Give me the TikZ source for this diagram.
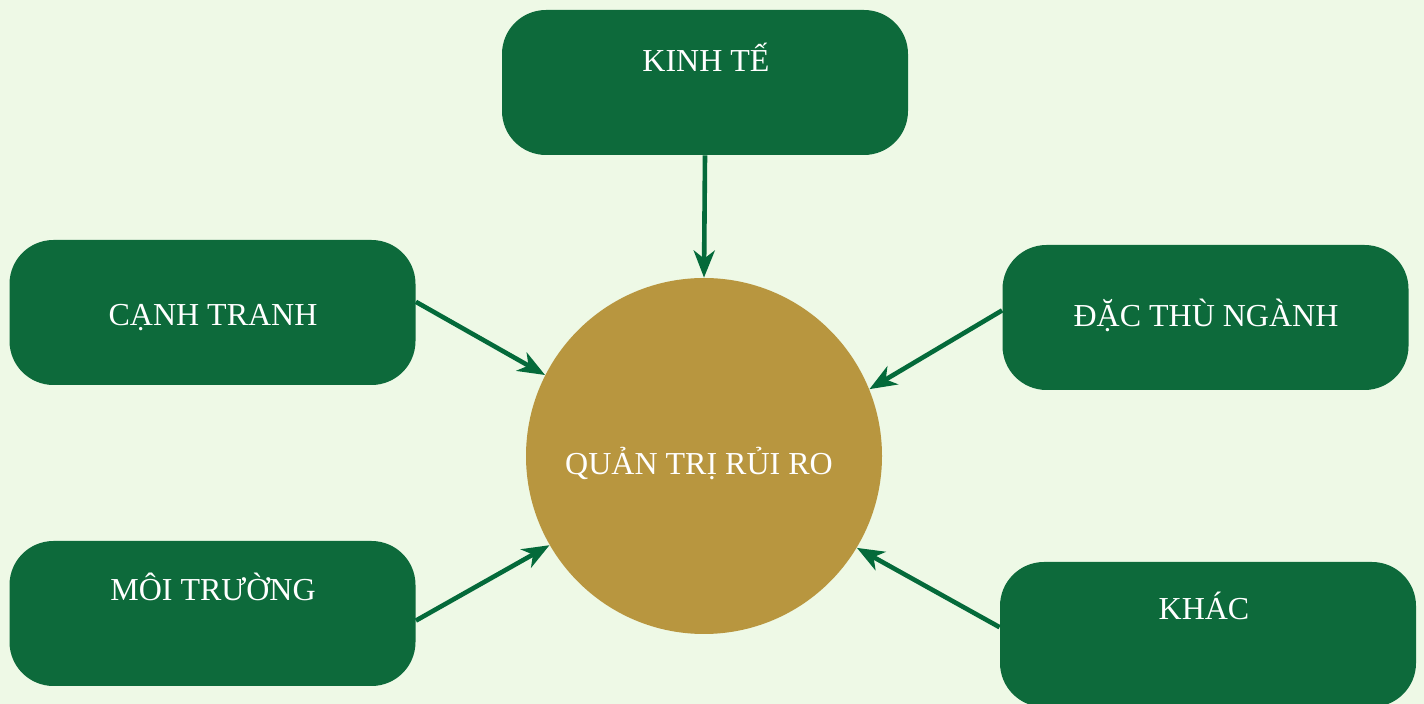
\documentclass[tikz,border=0pt]{standalone}
\usepackage{fontspec}
\setmainfont{Liberation Serif}
\usetikzlibrary{arrows.meta}
\definecolor{bgcol}{HTML}{EEF9E6}
\definecolor{boxcol}{HTML}{0D6A3B}
\definecolor{arrowcol}{HTML}{046A3A}
\definecolor{corecol}{HTML}{B8963F}
\tikzset{
  factor/.style={rectangle, rounded corners=22pt, fill=boxcol, draw=none,
    minimum width=203pt, minimum height=72.5pt, inner sep=0pt},
  core/.style={circle, fill=corecol, draw=none, minimum size=178pt, inner sep=0pt},
  caption/.style={text=white, font=\fontsize{16pt}{18pt}\selectfont,
    anchor=base, inner sep=0pt},
  link/.style={draw=arrowcol, line width=2.3pt,
    -{Stealth[length=13.5pt, width=10.5pt, inset=4pt]}},
}
\begin{document}
\begin{tikzpicture}[x=0.5pt, y=-0.5pt]
  % canvas
  \fill[bgcol] (0,0) rectangle (1424,704);
  \useasboundingbox (0,0) rectangle (1424,704);

  % centre and surrounding factors
  \node[core] (core) at (704,456) {};
  \node[factor] (kinh) at (705,82.5) {};
  \node[factor] (canh) at (212.5,312.5) {};
  \node[factor] (dac) at (1205.5,317.5) {};
  \node[factor] (moi) at (212.5,613.5) {};
  \node[factor, minimum width=208pt] (khac) at (1208,634.5) {};

  % captions
  \node[caption] (coreT) at (699,475) {QUẢN TRỊ RỦI RO};
  \node[caption] (kinhT) at (706,72) {KINH TẾ};
  \node[caption] (canhT) at (213,326) {CẠNH TRANH};
  \node[caption] (dacT) at (1206,327) {ĐẶC THÙ NGÀNH};
  \node[caption] (moiT) at (213,601) {MÔI TRƯỜNG};
  \node[caption] (khacT) at (1204,620) {KHÁC};

  % connectors
  \draw[link] (kinh.south) -- (core.north);
  \draw[link] (canh.3) -- (core.153);
  \draw[link] (dac.178.7) -- (core.22.5);
  \draw[link] (moi.-2.4) -- (core.210);
  \draw[link] (khac.178.2) -- (core.329);
\end{tikzpicture}
\end{document}
